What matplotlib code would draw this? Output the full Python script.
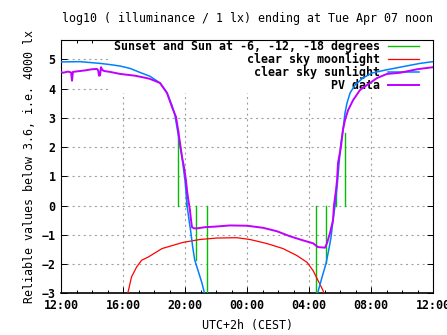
import numpy as np
import matplotlib.pyplot as plt
from matplotlib.patches import Rectangle
from matplotlib.ticker import MultipleLocator

plt.rcParams['font.family'] = 'DejaVu Sans Mono'
plt.rcParams['font.weight'] = 'bold'
plt.rcParams['font.size'] = 8.4
plt.rcParams['lines.scale_dashes'] = False

# hours after 12:00 (Mon noon) and log10 illuminance
sun_eve_h = [0.0, 1.23, 2.52, 3.16, 3.81, 4.45, 5.10, 5.74, 6.39, 6.84, 7.16, 7.35, 7.50,
             7.81, 8.00, 8.15, 8.28, 8.36, 8.50, 8.63, 8.84, 9.10, 9.35]
sun_eve_v = [4.91, 4.92, 4.86, 4.82, 4.77, 4.69, 4.55, 4.42, 4.19, 3.85, 3.42, 3.09, 2.62,
             1.65, 0.85, -0.06, -0.57, -0.85, -1.43, -1.87, -2.22, -2.66, -3.2]
sun_morn_h = [16.45, 16.84, 17.10, 17.29, 17.42, 17.55, 17.68, 17.81, 17.94, 18.06, 18.19,
              18.32, 18.45, 18.65, 18.97, 19.48, 20.06, 20.90, 21.87, 23.16, 24.0]
sun_morn_v = [-3.2, -2.45, -1.98, -1.47, -1.09, -0.5, 0.0, 0.62, 1.45, 2.13, 2.58,
              3.16, 3.5, 3.85, 4.12, 4.36, 4.53, 4.63, 4.73, 4.86, 4.92]

moon_h = [4.20, 4.30, 4.55, 4.88, 5.20, 5.63, 6.52, 7.87, 8.97, 10.06, 11.35, 12.19,
          13.29, 14.32, 15.22, 15.87, 16.26, 16.58, 16.90, 17.10]
moon_v = [-3.2, -3.02, -2.44, -2.10, -1.87, -1.76, -1.47, -1.26, -1.16, -1.11, -1.10, -1.16,
          -1.30, -1.47, -1.71, -1.94, -2.22, -2.56, -2.90, -3.2]

pv_h = [0.0, 0.13, 0.45, 0.65, 0.71, 0.77, 1.23, 1.55, 2.00, 2.32, 2.40, 2.45, 2.52, 2.58,
        2.65, 2.77, 3.16, 3.81, 4.77, 5.42, 5.74, 6.39, 6.84, 7.16, 7.42, 7.55, 7.68, 7.81,
        7.94, 8.06, 8.13, 8.19, 8.32, 8.39, 8.45, 8.58, 8.77, 9.29, 9.94, 10.90, 12.00,
        13.03, 13.94, 14.77, 15.61, 16.26, 16.58, 17.03, 17.16, 17.35, 17.55, 17.61, 17.74,
        17.81, 17.87, 18.06, 18.19, 18.32, 18.52, 18.84, 19.29, 19.74, 20.39, 21.03, 21.87,
        22.97, 24.0]
pv_v = [4.57, 4.54, 4.58, 4.55, 4.27, 4.57, 4.60, 4.62, 4.66, 4.67, 4.62, 4.44, 4.45, 4.73,
        4.65, 4.60, 4.57, 4.50, 4.44, 4.37, 4.33, 4.19, 3.85, 3.37, 3.03, 2.60, 2.13, 1.65,
        1.31, 0.87, 0.52, 0.28, -0.16, -0.50, -0.74, -0.78, -0.78, -0.74, -0.72, -0.68, -0.69,
        -0.76, -0.88, -1.05, -1.19, -1.29, -1.42, -1.44, -1.29, -0.95, -0.50, 0.0, 0.52,
        0.87, 1.45, 2.0, 2.58, 2.92, 3.26, 3.60, 3.95, 4.12, 4.36, 4.50, 4.54,
        4.66, 4.73]

# sunset / dawn and sun at -6, -12, -18 degrees: (hour, level reached from 0)
twi_h = [7.55, 8.06, 8.71, 9.44, 16.43, 17.12, 17.74, 18.34]
twi_top = [2.58, 0.50, -1.87, -3.2, -3.2, -1.98, 0.42, 2.47]

xtick_labels = ['12:00', '16:00', '20:00', '00:00', '04:00', '08:00', '12:00']

green = '#00c000'
red = '#ff0000'
blue = '#0080ff'
purple = '#c000ff'

fig = plt.figure(figsize=(4.47, 3.35), dpi=100)
ax = fig.add_axes([61/447, 1-293.3/335, 372/447, 253.3/335])

ax.set_xlim(0, 24)
ax.set_ylim(-3, 5.66)
ax.set_xticks(np.arange(0, 25, 4))
ax.set_xticklabels(xtick_labels)
ax.xaxis.set_minor_locator(MultipleLocator(1))
ax.set_yticks(np.arange(-3, 6, 1))
ax.tick_params(which='both', direction='in', top=True, right=True, labelsize=8.4, pad=4)
ax.tick_params(which='major', length=4, width=0.7)
ax.tick_params(which='minor', length=2, width=0.7)
for s in ax.spines.values():
    s.set_linewidth(0.8)
ax.spines['bottom'].set_linewidth(1.2)
ax.set_axisbelow(True)
ax.grid(True, which='major', color='#a0a0a0', linewidth=0.8, linestyle=(0, (1.5, 2.5)))

# opaque key area
ax.add_patch(Rectangle((47/372, (293.3-93)/253.3), 1-47/372, 93/253.3, transform=ax.transAxes,
                       facecolor='white', edgecolor='none', zorder=1))

for h, t in zip(twi_h, twi_top):
    ax.plot([h, h], [0, t], color=green, lw=1.0, zorder=3)
ax.plot([], [], color=green, lw=1.0, label='Sunset and Sun at -6, -12, -18 degrees')
ax.plot(moon_h, moon_v, color=red, lw=0.9, zorder=3, label='clear sky moonlight')
ax.plot(sun_eve_h, sun_eve_v, color=blue, lw=1.1, zorder=3, label='clear sky sunlight')
ax.plot(sun_morn_h, sun_morn_v, color=blue, lw=1.1, zorder=3)
ax.plot(pv_h, pv_v, color=purple, lw=1.4, zorder=4, label='PV data')

leg = ax.legend(loc='upper right', bbox_to_anchor=((419-61)/372, (293.3-40)/253.3),
                frameon=False, markerfirst=False, borderaxespad=0, borderpad=0,
                labelspacing=0.0, handlelength=2.65, handletextpad=0.7, fontsize=8.4)
leg.set_zorder(2)

ax.set_title('log10 ( illuminance / 1 lx) ending at Tue Apr 07 noon', fontsize=8.4, pad=13)
ax.set_xlabel('UTC+2h (CEST)', fontsize=8.4, labelpad=5)
ax.set_ylabel('Reliable values below 3.6, i.e. 4000 lx', fontsize=8.4, labelpad=4)

plt.savefig('out.png', dpi=100)
